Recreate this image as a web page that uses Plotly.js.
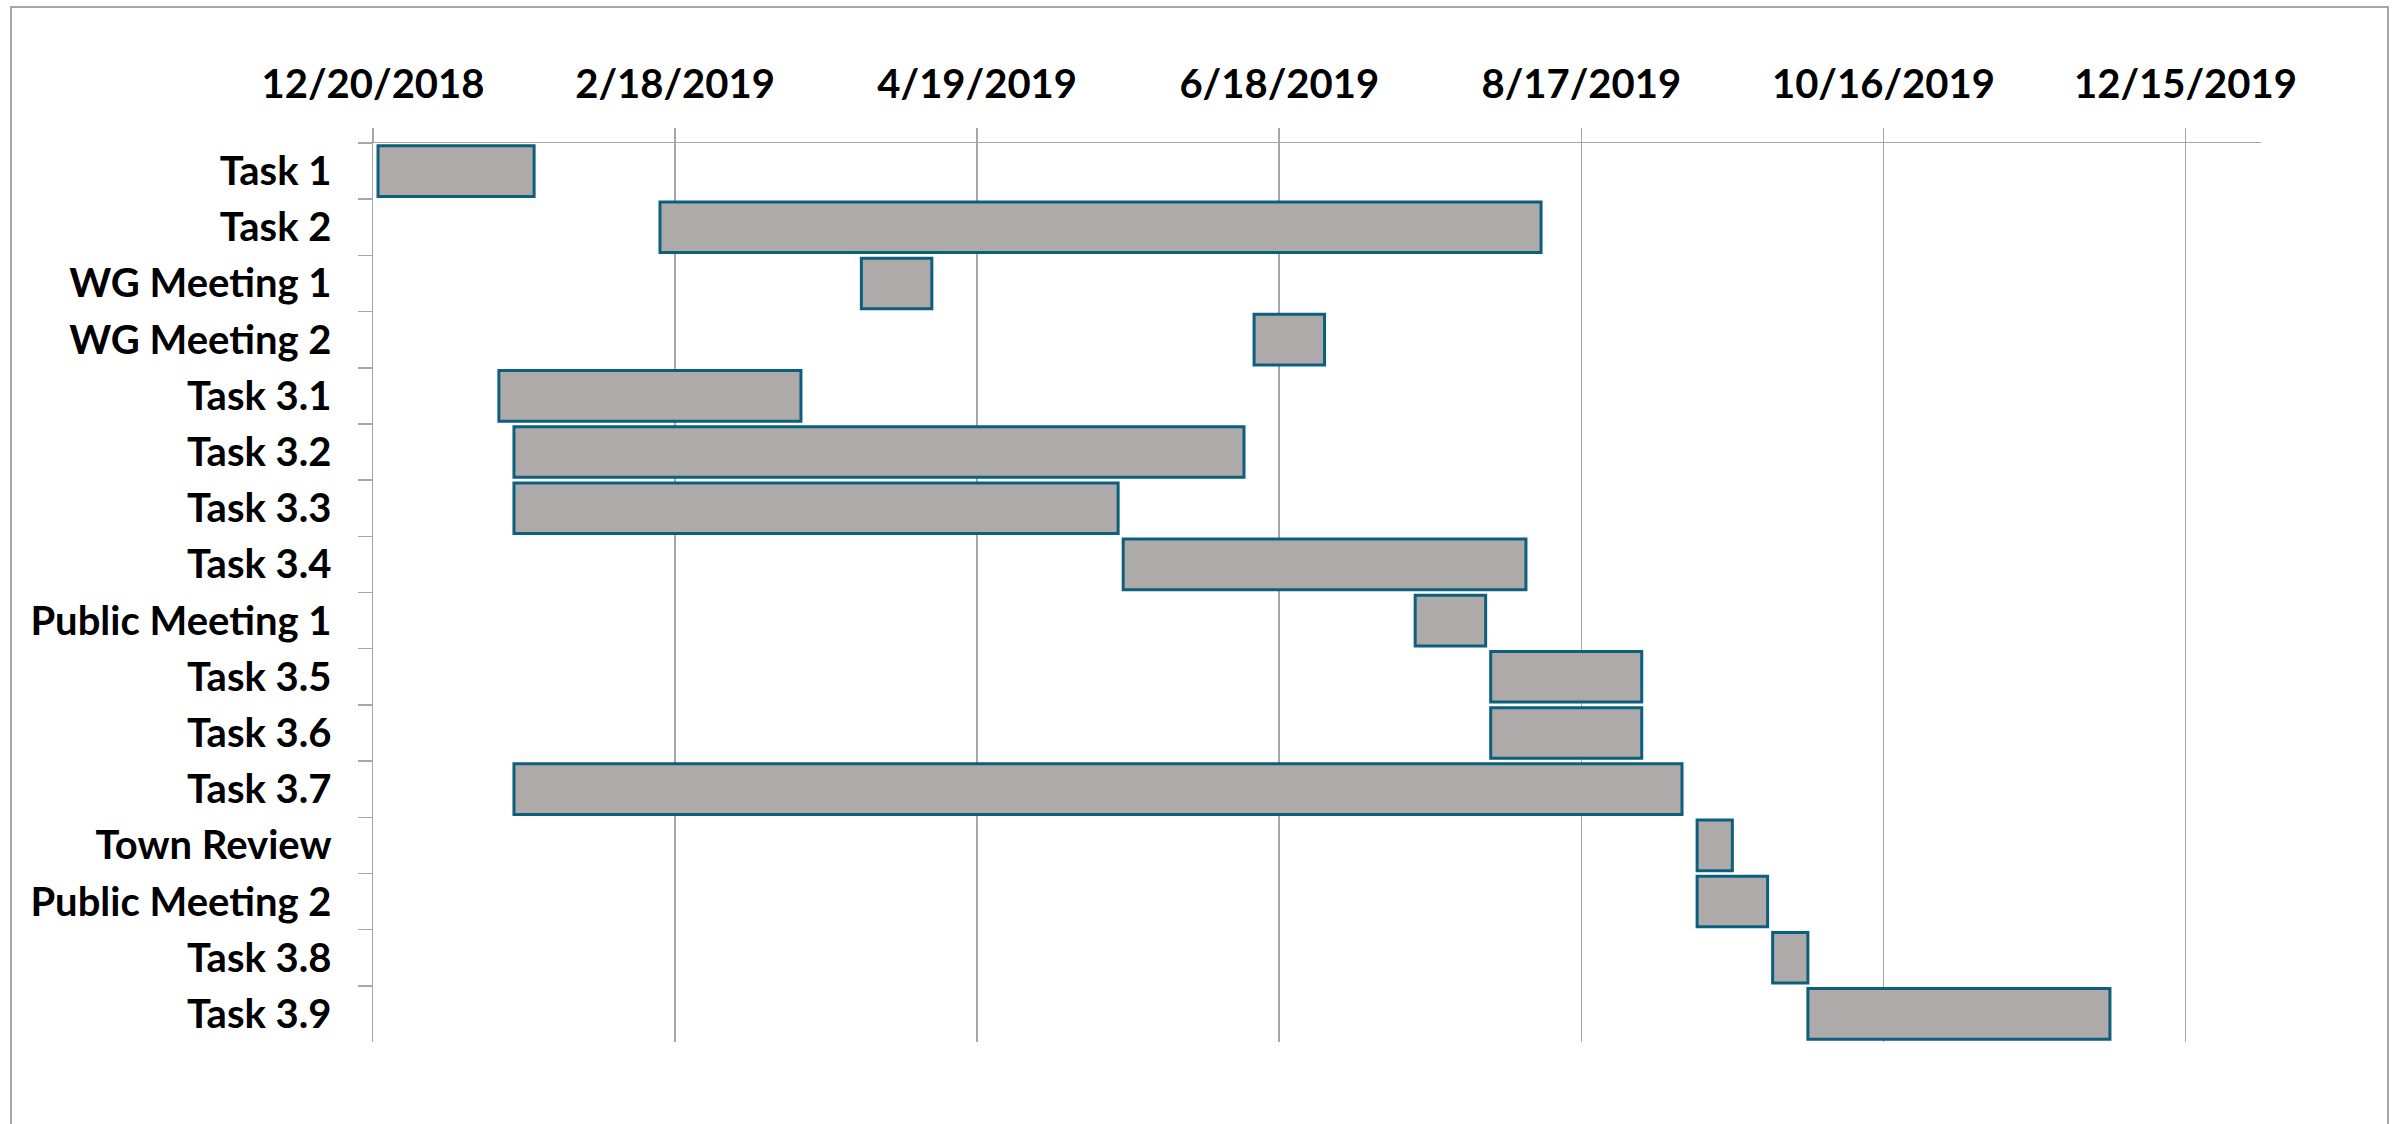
<!DOCTYPE html>
<html>
<head>
<meta charset="utf-8">
<script src="https://cdn.plot.ly/plotly-3.0.1.min.js"></script>
<style>
  html, body { margin: 0; padding: 0; background: #ffffff; }
  #chart { position: absolute; left: 0; top: 0; width: 2399px; height: 1124px; }
  #frame { position: absolute; left: 10px; top: 6px; width: 2379px; height: 1130px;
           border: 2px solid #a6a6a6; pointer-events: none; box-sizing: border-box; }
</style>
</head>
<body>
<div id="chart"></div>
<div id="frame"></div>
<script>
const tasks = ["Task 1","Task 2","WG Meeting 1","WG Meeting 2","Task 3.1","Task 3.2","Task 3.3","Task 3.4",
  "Public Meeting 1","Task 3.5","Task 3.6","Task 3.7","Town Review","Public Meeting 2","Task 3.8","Task 3.9"];
const startDates = ["2018-12-21","2019-02-15","2019-03-27","2019-06-13","2019-01-14","2019-01-17","2019-01-17","2019-05-18",
  "2019-07-15","2019-07-30","2019-07-30","2019-01-17","2019-09-09","2019-09-09","2019-09-24","2019-10-01"];
const endDates = ["2019-01-21","2019-08-09","2019-04-10","2019-06-27","2019-03-15","2019-06-11","2019-05-17","2019-08-06",
  "2019-07-29","2019-08-29","2019-08-29","2019-09-06","2019-09-16","2019-09-23","2019-10-01","2019-11-30"];
const axisStart = "2018-12-20";
const axisEnd = "2019-12-30";
const tickStepDays = 60;

const durations = startDates.map((s, i) => Date.parse(endDates[i]) - Date.parse(s));

const trace = {
  type: "bar",
  orientation: "h",
  y: tasks,
  base: startDates,
  x: durations,
  width: 0.9,
  marker: { color: "#AEAAAA", line: { color: "#0D5F7E", width: 3 } },
  hoverinfo: "skip"
};

const gridColor = "#a6a6a6";
const tickFont = { family: "Lato, 'Open Sans', sans-serif", size: 40, color: "#000000", weight: 700 };
const layout = {
  width: 2399, height: 1124,
  margin: { l: 373, r: 138, t: 143, b: 82, pad: 0 },
  paper_bgcolor: "#ffffff", plot_bgcolor: "#ffffff",
  showlegend: false,
  font: tickFont,
  xaxis: {
    type: "date",
    side: "top",
    range: [axisStart, axisEnd],
    tick0: axisStart,
    dtick: tickStepDays * 86400000,
    tickformat: "%-m/%-d/%Y",
    showgrid: true, gridcolor: gridColor, gridwidth: 1.5,
    showline: true, linecolor: gridColor, linewidth: 1.5,
    ticks: "outside", ticklen: 14, tickcolor: gridColor, tickwidth: 1.5,
    ticklabelstandoff: 14,
    zeroline: false,
    tickfont: tickFont
  },
  yaxis: {
    type: "category",
    autorange: "reversed",
    showgrid: false,
    showline: true, linecolor: gridColor, linewidth: 1.5,
    ticks: "outside", ticklen: 14, tickcolor: gridColor, tickwidth: 1.5,
    tickson: "boundaries",
    ticklabelstandoff: 32,
    zeroline: false,
    tickfont: tickFont
  }
};

Plotly.newPlot("chart", [trace], layout, { staticPlot: true, displayModeBar: false });
</script>
</body>
</html>
